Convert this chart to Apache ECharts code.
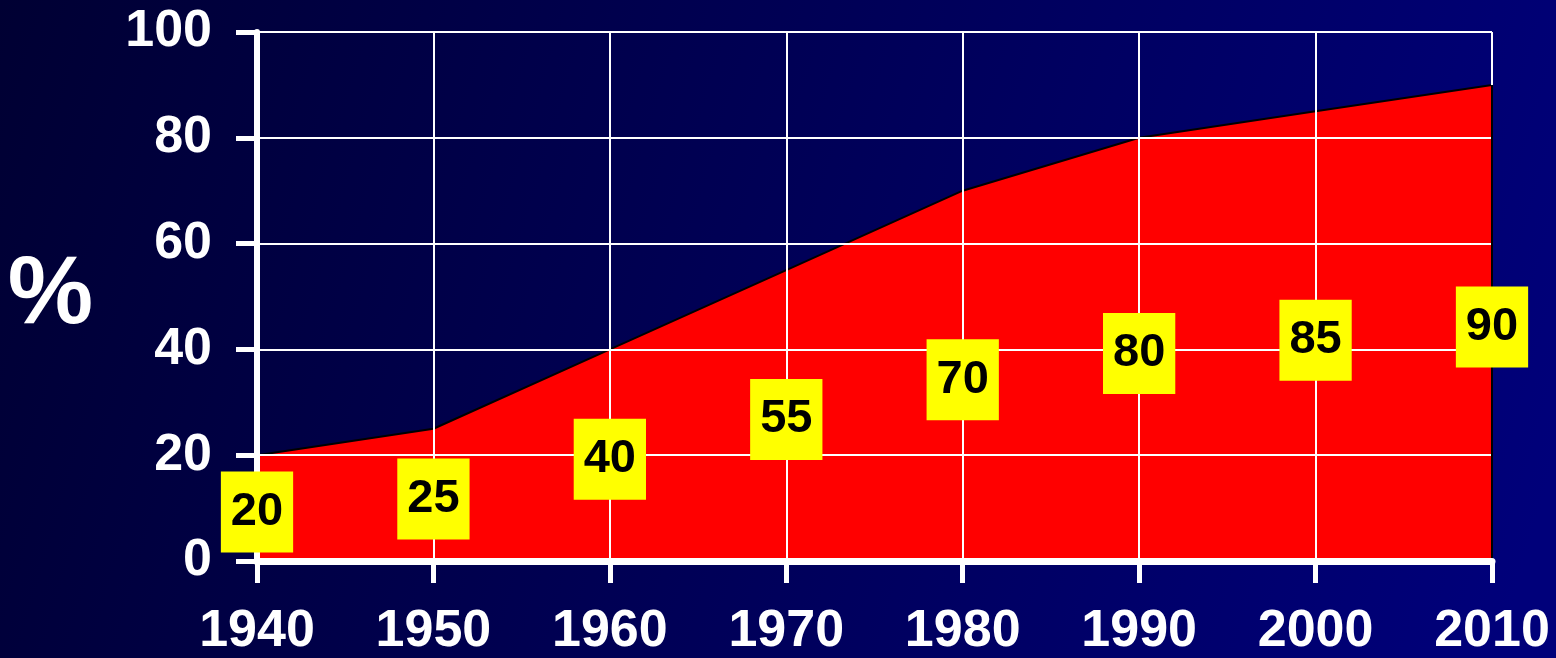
<!DOCTYPE html>
<html>
<head>
<meta charset="utf-8">
<script src="https://cdn.jsdelivr.net/npm/echarts@6/dist/echarts.min.js"></script>
<style>
html,body{margin:0;padding:0;width:1556px;height:658px;overflow:hidden;background:#000050;}
#chart{width:1556px;height:658px;}
</style>
</head>
<body>
<div id="chart"></div>
<script>
const years = ['1940','1950','1960','1970','1980','1990','2000','2010'];
const percent = [20, 25, 40, 55, 70, 80, 85, 90];
const yTicks = [0, 20, 40, 60, 80, 100];
const yAxisTitle = '%';

const chart = echarts.init(document.getElementById('chart'), null, {renderer: 'canvas'});
const lastIdx = years.length - 1;

const option = {
  animation: false,
  backgroundColor: {
    type: 'linear', x: 0, y: 0, x2: 1, y2: 0.7,
    colorStops: [{offset: 0, color: '#000033'}, {offset: 1, color: '#00007a'}]
  },
  grid: {left: 257, right: 64, top: 32, bottom: 97, containLabel: false, outerBoundsMode: 'none'},
  xAxis: {
    type: 'category',
    data: years,
    boundaryGap: false,
    axisLine: {show: true, lineStyle: {color: '#ffffff', width: 7}},
    axisTick: {show: true, length: 22, lineStyle: {color: '#ffffff', width: 5}},
    axisLabel: {
      color: '#ffffff', fontSize: 52, fontWeight: 'bold',
      fontFamily: 'Liberation Sans, Arial, sans-serif', margin: 45
    },
    splitLine: {show: true, lineStyle: {color: '#ffffff', width: 2}},
    z: 5
  },
  yAxis: {
    type: 'value',
    min: yTicks[0], max: yTicks[yTicks.length - 1], interval: 20,
    name: yAxisTitle,
    nameLocation: 'middle',
    nameRotate: 0,
    nameGap: 164,
    nameTextStyle: {
      color: '#ffffff', fontSize: 96, fontWeight: 'bold',
      fontFamily: 'Liberation Sans, Arial, sans-serif', padding: [0, 0, 34, 0]
    },
    axisLine: {show: true, lineStyle: {color: '#ffffff', width: 6}},
    axisTick: {show: true, length: 21, lineStyle: {color: '#ffffff', width: 5}},
    axisLabel: {
      color: '#ffffff', fontSize: 52, fontWeight: 'bold',
      fontFamily: 'Liberation Sans, Arial, sans-serif', margin: 45
    },
    splitLine: {show: true, lineStyle: {color: '#ffffff', width: 2}},
    z: 5
  },
  series: [
    {
      type: 'line',
      data: percent,
      symbol: 'none',
      lineStyle: {color: '#000000', width: 2},
      areaStyle: {color: '#ff0000', opacity: 1},
      z: 2,
      markLine: {
        silent: true,
        symbol: ['none', 'none'],
        label: {show: false},
        lineStyle: {color: '#000000', width: 2, type: 'solid'},
        data: [[
          {coord: [years[lastIdx], 0]},
          {coord: [years[lastIdx], percent[lastIdx]]}
        ]]
      }
    },
    {
      type: 'bar',
      data: percent,
      barWidth: 2,
      itemStyle: {color: 'rgba(0,0,0,0)'},
      silent: true,
      z: 10,
      label: {
        show: true,
        position: 'inside',
        offset: [0, 4],
        color: '#000000',
        fontSize: 47,
        fontWeight: 'bold',
        fontFamily: 'Liberation Sans, Arial, sans-serif',
        backgroundColor: '#ffff00',
        lineHeight: 46,
        padding: [13, 10, 22, 10],
        formatter: '{c}'
      }
    }
  ]
};
chart.setOption(option);
</script>
</body>
</html>
